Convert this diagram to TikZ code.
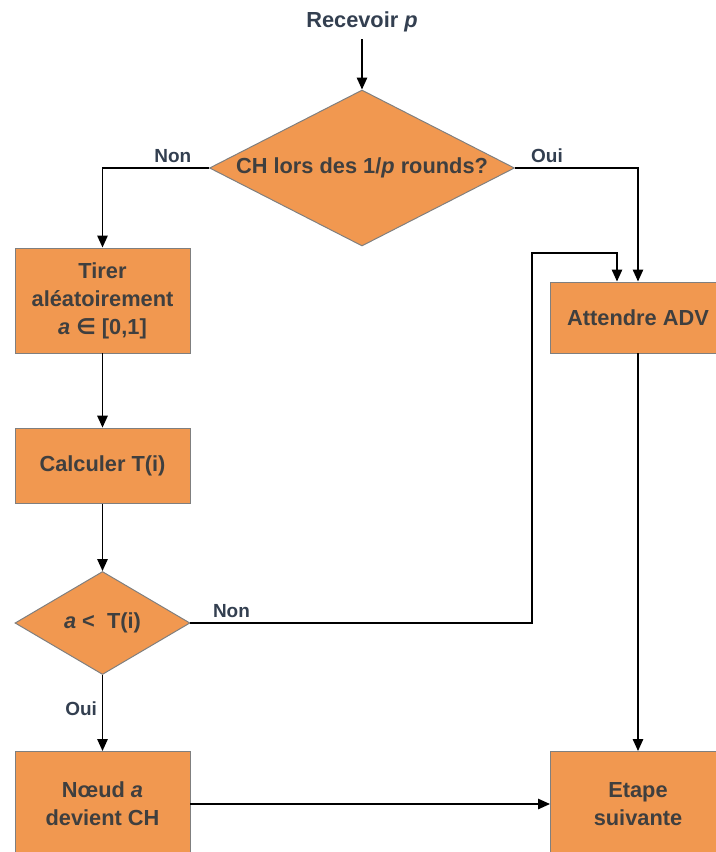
\documentclass[tikz,border=0pt]{standalone}
\usepackage{fontspec}
\setmainfont{Liberation Sans}
\newfontfamily\symfnt{DejaVu Sans}
\usepackage{tikz}
\usetikzlibrary{positioning, arrows.meta, calc, shapes.geometric}

\definecolor{boxfill}{HTML}{F19850}
\definecolor{boxline}{HTML}{7F7F7F}
\definecolor{boxtext}{HTML}{3F3F3F}
\definecolor{lbltext}{HTML}{333F50}

\begin{document}
\begin{tikzpicture}[
  >={Triangle[length=3mm, width=2.6mm]},
  every node/.style={font=\fontsize{15.5}{20}\selectfont\bfseries},
  proc/.style={draw=boxline, fill=boxfill, text=boxtext, line width=0.7pt,
               minimum width=4.375cm, align=center, inner sep=2pt},
  test/.style={diamond, draw=boxline, fill=boxfill, text=boxtext, line width=0.7pt,
               inner sep=0pt, align=center},
  arr/.style={->, line width=1.2pt, black},
  lbl/.style={font=\fontsize{13.5}{16}\selectfont\bfseries, text=lbltext}
]
\useasboundingbox (0,0) rectangle (17.9,-21.3);

%--- Start ---
\node[text=lbltext] (recv) at (9.05, -0.55) {Recevoir \textit{p}};
\node[test, minimum width=7.625cm, minimum height=3.9cm, aspect=1.96] (rounds) at (9.05, -4.2)
  {CH lors des 1/\textit{p} rounds?};
\draw[arr] (recv.south) ++(0,-0.05) -- (rounds.north);

%--- Left column ---
\node[proc, minimum height=2.625cm] (tirer) at (2.5625, -7.5125)
  {Tirer\\aléatoirement\\\textit{a} {\symfnt\bfseries ∈} [0,1]};
\node[proc, minimum height=1.875cm] (calc) at (2.5625, -11.64) {Calculer T(i)};
\node[test, minimum width=4.375cm, minimum height=2.575cm, aspect=1.7] (seuil) at (2.5625, -15.575)
  {\textit{a} <\; T(i)};
\node[proc, minimum height=2.625cm] (noeud) at (2.5625, -20.1) {Nœud \textit{a}\\devient CH};

%--- Right column ---
\node[proc, minimum height=1.775cm] (wait) at (15.95, -7.9375) {Attendre ADV};
\node[proc, minimum height=2.625cm] (next) at (15.95, -20.1) {Etape\\suivante};

%--- Connectors ---
\draw[arr] (rounds.west) -| node[lbl, above, pos=0.17]{Non} (tirer.north);
\draw[arr] (rounds.east) -| node[lbl, above, pos=0.13]{Oui} (wait.north);
\draw[arr] (tirer) -- (calc);
\draw[arr] (calc) -- (seuil);
\draw[arr] (seuil) -- node[lbl, left, pos=0.45]{Oui} (noeud);

% retour vers l'attente
\coordinate (loop) at (13.3, -6.325);
\draw[arr] (seuil.east) -| node[lbl, above, pos=0.06]{Non} (loop) -| ([xshift=-0.525cm]wait.north);

\draw[arr] (wait) -- (next);
\draw[arr] (noeud) -- (next);

\end{tikzpicture}
\end{document}
